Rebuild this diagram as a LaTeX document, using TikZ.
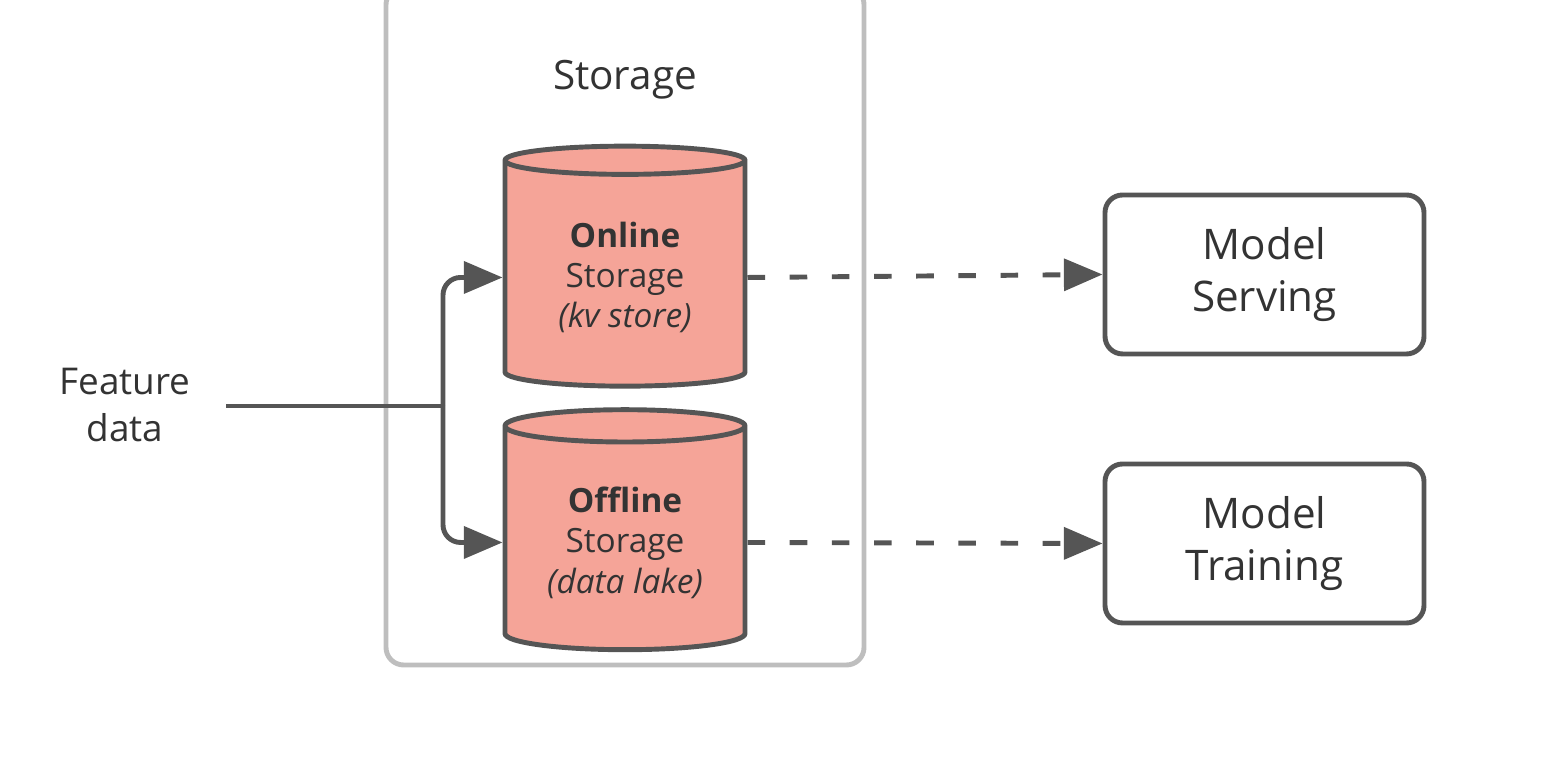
\documentclass[tikz,border=0pt]{standalone}
\usepackage{fontspec}
\setmainfont{Open Sans}
\definecolor{mysalmon}{RGB}{245,164,152}
\definecolor{mygray}{RGB}{85,85,85}
\definecolor{mylight}{RGB}{190,190,190}
\usetikzlibrary{shapes.geometric,arrows.meta,positioning}
\tikzset{
  db/.style={draw=mygray,fill=mysalmon,cylinder,shape border rotate=90,aspect=0.18,
    minimum width=2.4cm,minimum height=2.4cm,line width=1.4pt,align=center,
    font=\fontsize{9.5}{11.5}\selectfont,text=black!80},
  model/.style={draw=mygray,rounded corners=5pt,line width=1.4pt,minimum width=3.19cm,
    minimum height=1.59cm,align=center,font=\fontsize{12}{15}\selectfont,text=black!80},
  link/.style={mygray,line width=1.4pt,-{Triangle[length=11pt,width=9pt]}}
}
\begin{document}
\begin{tikzpicture}
\useasboundingbox (0,0) rectangle (15.62,7.69);
% storage frame
\node[draw=mylight,rounded corners=5pt,line width=1.4pt,minimum width=4.78cm,
  minimum height=6.78cm] (frame) at (6.25,4.43) {};
\node[font=\fontsize{11.5}{14}\selectfont,text=black!80] (title) at (6.25,6.89) {Storage};
\node[db] (online) at (6.25,4.915) {\textbf{Online}\\Storage\\\textit{(kv store)}};
\node[db] (offline) at (6.25,2.265) {\textbf{Offline}\\Storage\\\textit{(data lake)}};
\node[model] (serving) at (12.645,4.945) {Model\\Serving};
\node[model] (training) at (12.645,2.255) {Model\\Training};
\node[align=center,font=\fontsize{10.5}{13.5}\selectfont,text=black!80] (feat) at (1.25,3.64) {Feature\\data};
\coordinate (split) at (4.43,3.63);
% connectors
\draw[mygray,line width=1.4pt] (2.26,3.63) -- (split);
\draw[link,rounded corners=5pt] (split) |- (online.west);
\draw[link,rounded corners=5pt] (split) |- (offline.west);
\draw[link,dash pattern=on 5pt off 7pt] (online.east) -- (serving.west);
\draw[link,dash pattern=on 5pt off 7pt] (offline.east) -- (training.west);
\end{tikzpicture}
\end{document}
